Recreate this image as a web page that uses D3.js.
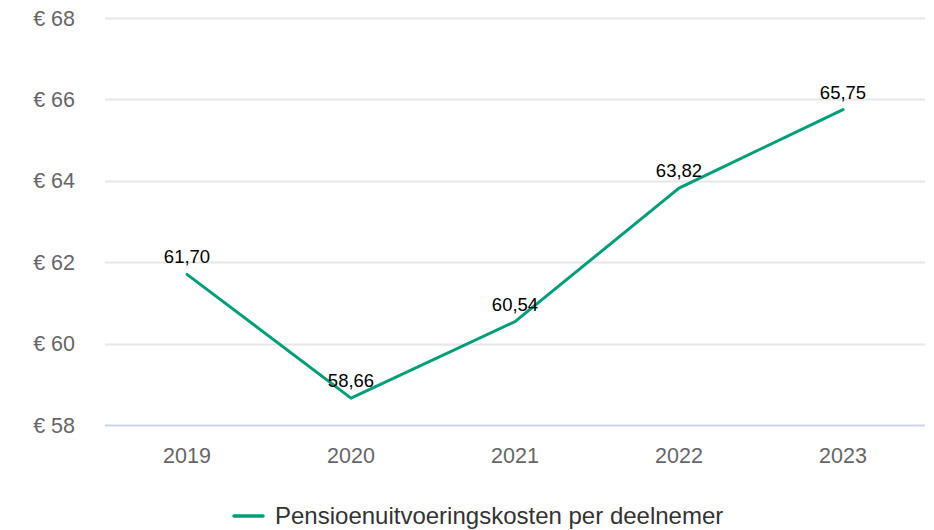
<!DOCTYPE html>
<html>
<head>
<meta charset="utf-8">
<script src="https://cdn.jsdelivr.net/npm/d3@7"></script>
<style>
  body { margin: 0; background: #fff; }
  svg { display: block; font-family: "Liberation Sans", Arial, sans-serif; }
</style>
</head>
<body>
<svg id="chart" width="934" height="530"></svg>
<script>
// data
const years = ["2019", "2020", "2021", "2022", "2023"];
const costs = [61.70, 58.66, 60.54, 63.82, 65.75];
const yTicks = [58, 60, 62, 64, 66, 68];
const seriesName = "Pensioenuitvoeringskosten per deelnemer";

const plot = { left: 105, right: 925, top: 18, bottom: 425 };
const green = "#009f78";

const svg = d3.select("#chart");

const x = d3.scaleBand().domain(years).range([plot.left, plot.right]);
const y = d3.scaleLinear().domain([58, 68]).range([plot.bottom, plot.top]);

const fmt = v => v.toFixed(2).replace(".", ",");

// gridlines
svg.append("g")
  .selectAll("line")
  .data(yTicks)
  .join("line")
  .attr("x1", plot.left).attr("x2", plot.right)
  .attr("y1", d => Math.round(y(d)) + 0.5).attr("y2", d => Math.round(y(d)) + 0.5)
  .attr("stroke", d => d === 58 ? "#ccd6eb" : "#e6e6e6")
  .attr("stroke-width", 2);

// y labels
svg.append("g")
  .selectAll("text")
  .data(yTicks)
  .join("text")
  .attr("x", 75)
  .attr("y", d => y(d))
  .attr("dy", "0.35em")
  .attr("text-anchor", "end")
  .attr("fill", "#666")
  .attr("font-size", 21.5)
  .text(d => "€ " + d);

// x labels
svg.append("g")
  .selectAll("text")
  .data(years)
  .join("text")
  .attr("x", d => x(d) + x.bandwidth() / 2)
  .attr("y", 463)
  .attr("text-anchor", "middle")
  .attr("fill", "#666")
  .attr("font-size", 21.5)
  .text(d => d);

// line
const pts = years.map((yr, i) => [x(yr) + x.bandwidth() / 2, y(costs[i])]);
svg.append("path")
  .attr("d", d3.line()(pts))
  .attr("fill", "none")
  .attr("stroke", green)
  .attr("stroke-width", 3)
  .attr("stroke-linejoin", "round")
  .attr("stroke-linecap", "round");

// data labels
svg.append("g")
  .selectAll("text")
  .data(costs)
  .join("text")
  .attr("x", (d, i) => pts[i][0])
  .attr("y", (d, i) => pts[i][1] - 11)
  .attr("text-anchor", "middle")
  .attr("fill", "#000")
  .attr("font-size", 18.5)
  .text(d => fmt(d));

// legend
const lg = svg.append("g");
lg.append("line")
  .attr("x1", 234).attr("x2", 263)
  .attr("y1", 516).attr("y2", 516)
  .attr("stroke", green).attr("stroke-width", 3.5)
  .attr("stroke-linecap", "round");
lg.append("text")
  .attr("x", 275).attr("y", 524)
  .attr("fill", "#333")
  .attr("font-size", 24)
  .text(seriesName);
</script>
</body>
</html>
